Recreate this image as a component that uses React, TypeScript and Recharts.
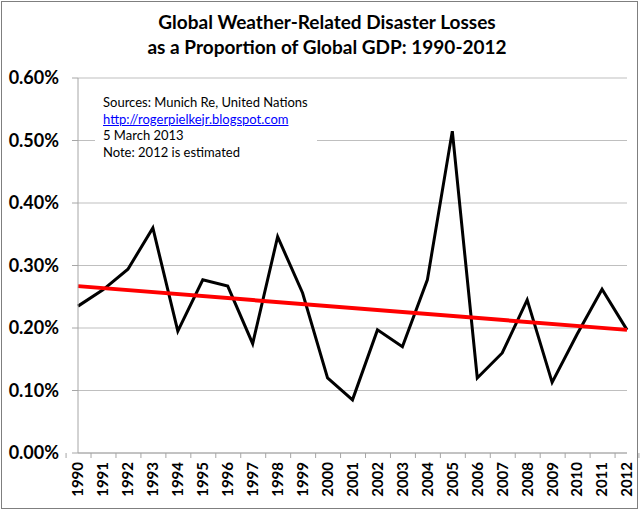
import React from 'react';
import { LineChart, Line, XAxis, YAxis, CartesianGrid } from 'recharts';

const years = [
  '1990', '1991', '1992', '1993', '1994', '1995', '1996', '1997', '1998', '1999', '2000', '2001',
  '2002', '2003', '2004', '2005', '2006', '2007', '2008', '2009', '2010', '2011', '2012',
];

// losses as % of global GDP
const losses = [
  0.235, 0.261, 0.294, 0.36, 0.195, 0.277, 0.267, 0.175, 0.346, 0.256, 0.12, 0.085,
  0.197, 0.17, 0.277, 0.515, 0.12, 0.16, 0.245, 0.113, 0.19, 0.262, 0.197,
];

// linear trend, only the two ends are drawn
const trendStart = 0.267;
const trendEnd = 0.197;

const yTicks = [0, 0.1, 0.2, 0.3, 0.4, 0.5, 0.6];

const data = years.map((year, i) => ({
  year,
  loss: losses[i],
  trend: i === 0 ? trendStart : i === years.length - 1 ? trendEnd : null,
}));

const FONT = 'Lato, "Open Sans", sans-serif';
const BAND = (627 - 78) / years.length;

const YearTick = (props: any) => {
  const { x, y, payload, index } = props;
  return (
    <g transform={`translate(${x},${y})`}>
      <line x1={-BAND / 2} y1={0} x2={-BAND / 2} y2={5} stroke="#a6a6a6" />
      {index === years.length - 1 && (
        <line x1={BAND / 2} y1={0} x2={BAND / 2} y2={5} stroke="#a6a6a6" />
      )}
      <text
        transform="rotate(-90)"
        x={-9}
        y={0}
        dy="0.36em"
        textAnchor="end"
        fill="#000"
        fontFamily={FONT}
        fontWeight="bold"
        fontSize={15}
      >
        {payload.value}
      </text>
    </g>
  );
};

const App = () => {
  return (
    <div style={{ position: 'absolute', left: 0, top: 0, width: 640, height: 510, background: '#fff' }}>
      <div
        style={{
          position: 'absolute', left: 1, top: 1, width: 635, height: 506,
          border: '1.5px solid #7f7f7f',
        }}
      />
      <div
        style={{
          position: 'absolute', left: 0, top: 9, width: 654, textAlign: 'center',
          fontFamily: FONT, fontWeight: 'bold', fontSize: 19, lineHeight: '25px', color: '#000',
        }}
      >
        Global Weather-Related Disaster Losses
        <br />
        as a Proportion of Global GDP: 1990-2012
      </div>
      <LineChart
        width={640}
        height={510}
        data={data}
        margin={{ top: 78, right: 13, left: 0, bottom: 2 }}
      >
        <CartesianGrid vertical={false} stroke="#bfbfbf" />
        <XAxis
          dataKey="year"
          interval={0}
          height={55}
          stroke="#a6a6a6"
          tickLine={false}
          tickSize={0}
          tickMargin={0}
          tick={<YearTick />}
        />
        <YAxis
          width={78}
          domain={[0, 0.6]}
          ticks={yTicks}
          stroke="#a6a6a6"
          tickSize={6}
          tickMargin={13}
          tickFormatter={(v: number) => v.toFixed(2) + '%'}
          tick={{ fill: '#000', fontFamily: FONT, fontWeight: 'bold', fontSize: 18 }}
        />
        <Line
          dataKey="loss"
          stroke="#000"
          strokeWidth={3}
          dot={false}
          type="linear"
          isAnimationActive={false}
        />
        <Line
          dataKey="trend"
          stroke="#ff0000"
          strokeWidth={4}
          dot={false}
          connectNulls
          type="linear"
          isAnimationActive={false}
        />
      </LineChart>
      <div
        style={{
          position: 'absolute', left: 95, top: 88, width: 222, height: 76, background: '#fff',
          fontFamily: FONT, fontSize: 13, lineHeight: '16.5px', color: '#000',
          boxSizing: 'border-box', paddingLeft: 8, paddingTop: 6,
        }}
      >
        <div>Sources: Munich Re, United Nations</div>
        <div style={{ color: '#0000ff', textDecoration: 'underline' }}>http://rogerpielkejr.blogspot.com</div>
        <div>5 March 2013</div>
        <div>Note: 2012 is estimated</div>
      </div>
    </div>
  );
};

export default App;
